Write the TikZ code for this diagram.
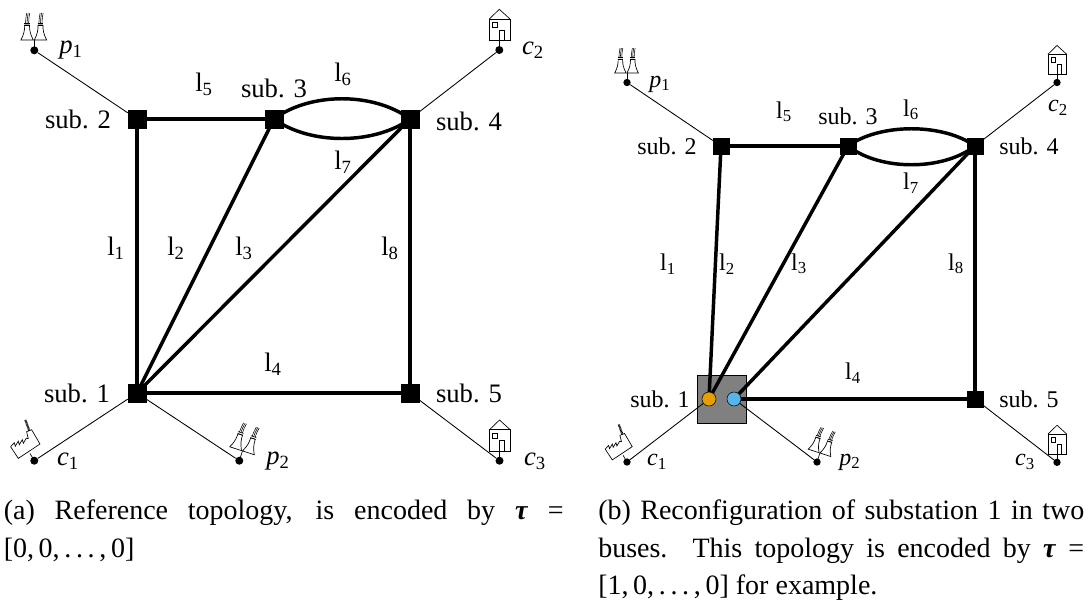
\documentclass[tikz,border=0pt]{standalone}
\usepackage{fontspec}
\setmainfont{Liberation Serif}
\newcommand\subs[2]{#1\textsubscript{#2}}
\newcommand\vars[2]{\textit{#1}\textsubscript{#2}}
\definecolor{busorange}{RGB}{230,159,0}
\definecolor{busblue}{RGB}{86,180,233}
\tikzset{
 bus/.style={draw=black,fill=black,minimum size=13.5pt,inner sep=0pt,rectangle},
 term/.style={circle,fill=black,minimum size=6pt,inner sep=0pt},
 line/.style={line width=2.6pt},
 spur/.style={line width=0.65pt},
 lab/.style={font=\fontsize{20}{22}\selectfont,inner sep=0pt},
 labr/.style={font=\fontsize{18}{20}\selectfont,inner sep=0pt},
 caption/.style={font=\fontsize{21}{28}\selectfont,inner sep=0pt,anchor=north west,align=justify},
 pics/house/.style={code={
  \draw[line width=.5pt] (-10,-31) rectangle (10.7,-9.3);
  \draw[line width=.5pt] (-10,-31) -- (0,-40.7) -- (10.7,-31);
  \draw[line width=.5pt] (-6.7,-27.3) rectangle (-1.7,-22.3);
  \draw[line width=.5pt] (0,-9.3) -- (0,-20) -- (5,-20) -- (5,-9.3);
  \draw[line width=.5pt] (0,0) -- (0,-9.3);
 }},
 pics/tower/.style={code={
  \draw[line width=.5pt,fill=white] (-6.2,0) .. controls (-3,-6) and (-2.4,-10) .. (-2.4,-15)
    -- (2.4,-15) .. controls (2.4,-10) and (3,-6) .. (6.2,0) -- cycle;
  \draw[line width=.5pt] (-2.8,-15) -- (2.8,-15) (-2.8,-17) -- (2.8,-17);
  \draw[line width=.4pt] (-1.6,-17) -- (-1.2,-22) -- (-.4,-27) (0,-17) -- (.3,-22) -- (1.1,-27) (1.6,-17) -- (1.8,-22) -- (2.6,-27);
 }},
 pics/plant/.style={code={
  \draw[line width=.5pt] (0,0) -- (0,-10.3);
  \pic[transform shape] at (-7.2,-10.3) {tower};
  \pic[transform shape] at (6.2,-10.3) {tower};
 }},
 pics/factory/.style={code={
  \draw[line width=.5pt] (0,0) -- (-4.3,-7.3);
  \draw[line width=.5pt] (-23.7,-14) -- (-16,-2.3) -- (5.7,-16.7) -- (-2.7,-31) -- (-7.7,-29) -- (-6,-22);
  \draw[line width=.5pt] (-23.7,-14) -- (-20,-18) -- (-19,-14.5) -- (-16,-19.5) -- (-15,-16) -- (-12,-21) -- (-11,-17.5) -- (-8,-22.5) -- (-6,-22);
  \draw[line width=1.6pt,dash pattern=on .6pt off .4pt] (-5,-30) -- (-9,-41);
 }},
}
\begin{document}
\begin{tikzpicture}[x=0.75pt,y=-0.75pt]
\useasboundingbox (0,0) rectangle (1088,601);
% ---- left
\node[bus] (s2) at (137,119) {};
\node[bus] (s3) at (274,119) {};
\node[bus] (s4) at (410,119) {};
\node[bus] (s1) at (137,393) {};
\node[bus] (s5) at (410,393) {};
\node[term] (p1) at (34.3,50.3) {};
\node[term] (c2) at (499.3,50) {};
\node[term] (c1) at (34.3,460.7) {};
\node[term] (p2) at (239.3,460.7) {};
\node[term] (c3) at (499.5,460.7) {};
\draw[line] (s2) -- (s3);
\draw[line] (s2.center) -- (s1.center);
\draw[line] (s3.center) -- (s1.center);
\draw[line] (s4.center) -- (s1.center);
\draw[line] (s1) -- (s5);
\draw[line] (s4) -- (s5);
\draw[line] (s3.center) .. controls (310,92) and (374,92) .. (s4.center);
\draw[line] (s3.center) .. controls (310,145) and (374,145) .. (s4.center);
\draw[spur] (s2) -- (p1);
\draw[spur] (s4) -- (c2);
\draw[spur] (s1) -- (c1);
\draw[spur] (s1) -- (p2);
\draw[spur] (s5) -- (c3);
\pic at (p1) {plant};
\pic at (c2) {house};
\pic at (c3) {house};
\pic at (c1) {factory};
\pic[rotate=-18] at (p2) {plant};
\node[lab] (t2) at (78,119) {sub. 2};
\node[lab] (t3) at (274,88) {sub. 3};
\node[lab] (t4) at (469,121) {sub. 4};
\node[lab] (t1) at (77,393) {sub. 1};
\node[lab] (t5) at (469,393) {sub. 5};
\node[lab] (tp1) at (71,50) {\vars{p}{1}};
\node[lab] (tc2) at (533,50) {\vars{c}{2}};
\node[lab] (tc1) at (68,461) {\vars{c}{1}};
\node[lab] (tp2) at (278,461) {\vars{p}{2}};
\node[lab] (tc3) at (535,461) {\vars{c}{3}};
\node[lab] (l1) at (116,248) {\subs{l}{1}};
\node[lab] (l2) at (176,248) {\subs{l}{2}};
\node[lab] (l3) at (244,248) {\subs{l}{3}};
\node[lab] (l4) at (273,364) {\subs{l}{4}};
\node[lab] (l5) at (204,84) {\subs{l}{5}};
\node[lab] (l6) at (343,74) {\subs{l}{6}};
\node[lab] (l7) at (343,162) {\subs{l}{7}};
\node[lab] (l8) at (390,248) {\subs{l}{8}};
% ---- right
\node[draw=black,fill=black!50,line width=.5pt,minimum width=36.5pt,minimum height=36pt,inner sep=0pt] (box) at (721.5,399) {};
\node[bus,minimum size=12pt] (r2) at (721,146) {};
\node[bus,minimum size=12pt] (r3) at (848,146) {};
\node[bus,minimum size=12pt] (r4) at (975,146) {};
\node[bus,minimum size=12pt] (r5) at (975,399) {};
\node[term,minimum size=5.5pt] (rp1) at (627,82.5) {};
\node[term,minimum size=5.5pt] (rc2) at (1057,82.5) {};
\node[term,minimum size=5.5pt] (rc1) at (627,462) {};
\node[term,minimum size=5.5pt] (rp2) at (817,462) {};
\node[term,minimum size=5.5pt] (rc3) at (1057,462.3) {};
\coordinate (ja) at (709,399);
\coordinate (jb) at (734,399);
\draw[line] (r2) -- (r3);
\draw[line] (r2.center) -- (ja);
\draw[line] (r3.center) -- (ja);
\draw[line] (r4.center) -- (jb);
\draw[line] (jb) -- (r5);
\draw[line] (r4) -- (r5);
\draw[line] (r3.center) .. controls (880,123) and (943,123) .. (r4.center);
\draw[line] (r3.center) .. controls (880,171) and (943,171) .. (r4.center);
\draw[spur] (r2) -- (rp1);
\draw[spur] (r4) -- (rc2);
\draw[spur] (ja) -- (rc1);
\draw[spur] (jb) -- (rp2);
\draw[spur] (r5) -- (rc3);
\node[circle,draw=black,fill=busorange,minimum size=10.5pt,inner sep=0pt,line width=.4pt] (ba) at (ja) {};
\node[circle,draw=black,fill=busblue,minimum size=10.5pt,inner sep=0pt,line width=.4pt] (bb) at (jb) {};
\pic[scale=.91] at (rc2) {house};
\pic[scale=.91] at (rc3) {house};
\pic[scale=.92] at (rp1) {plant};
\pic[scale=.92,rotate=-18] at (rp2) {plant};
\pic[scale=.92] at (rc1) {factory};
\node[labr] (rt2) at (667,146) {sub. 2};
\node[labr] (rt3) at (848,116) {sub. 3};
\node[labr] (rt4) at (1029,146) {sub. 4};
\node[labr] (rt1) at (660,399) {sub. 1};
\node[labr] (rt5) at (1029,399) {sub. 5};
\node[labr] (rtp1) at (660,84) {\vars{p}{1}};
\node[labr] (rtc2) at (1058,108) {\vars{c}{2}};
\node[labr] (rtc1) at (657,462) {\vars{c}{1}};
\node[labr] (rtp2) at (850,462) {\vars{p}{2}};
\node[labr] (rtc3) at (1025,462) {\vars{c}{3}};
\node[labr] (m1) at (668,264) {\subs{l}{1}};
\node[labr] (m2) at (727,264) {\subs{l}{2}};
\node[labr] (m3) at (799,264) {\subs{l}{3}};
\node[labr] (m4) at (853,373) {\subs{l}{4}};
\node[labr] (m5) at (784,112) {\subs{l}{5}};
\node[labr] (m6) at (911,110) {\subs{l}{6}};
\node[labr] (m7) at (911,183) {\subs{l}{7}};
\node[labr] (m8) at (956,264) {\subs{l}{8}};
% ---- captions
\node[caption,text width=420pt] (capa) at (3.5,500) {(a) Reference topology, is encoded by \textbf{\textit{τ}} =\linebreak{} [0,\,0,\,.\,.\,.\,,\,0]};
\node[caption,text width=364.5pt] (capb) at (598,500) {(b) Reconfiguration of substation 1 in two\linebreak{} buses. This topology is encoded by \textbf{\textit{τ}} =\linebreak{} [1,\,0,\,.\,.\,.\,,\,0] for example.};
\end{tikzpicture}
\end{document}
